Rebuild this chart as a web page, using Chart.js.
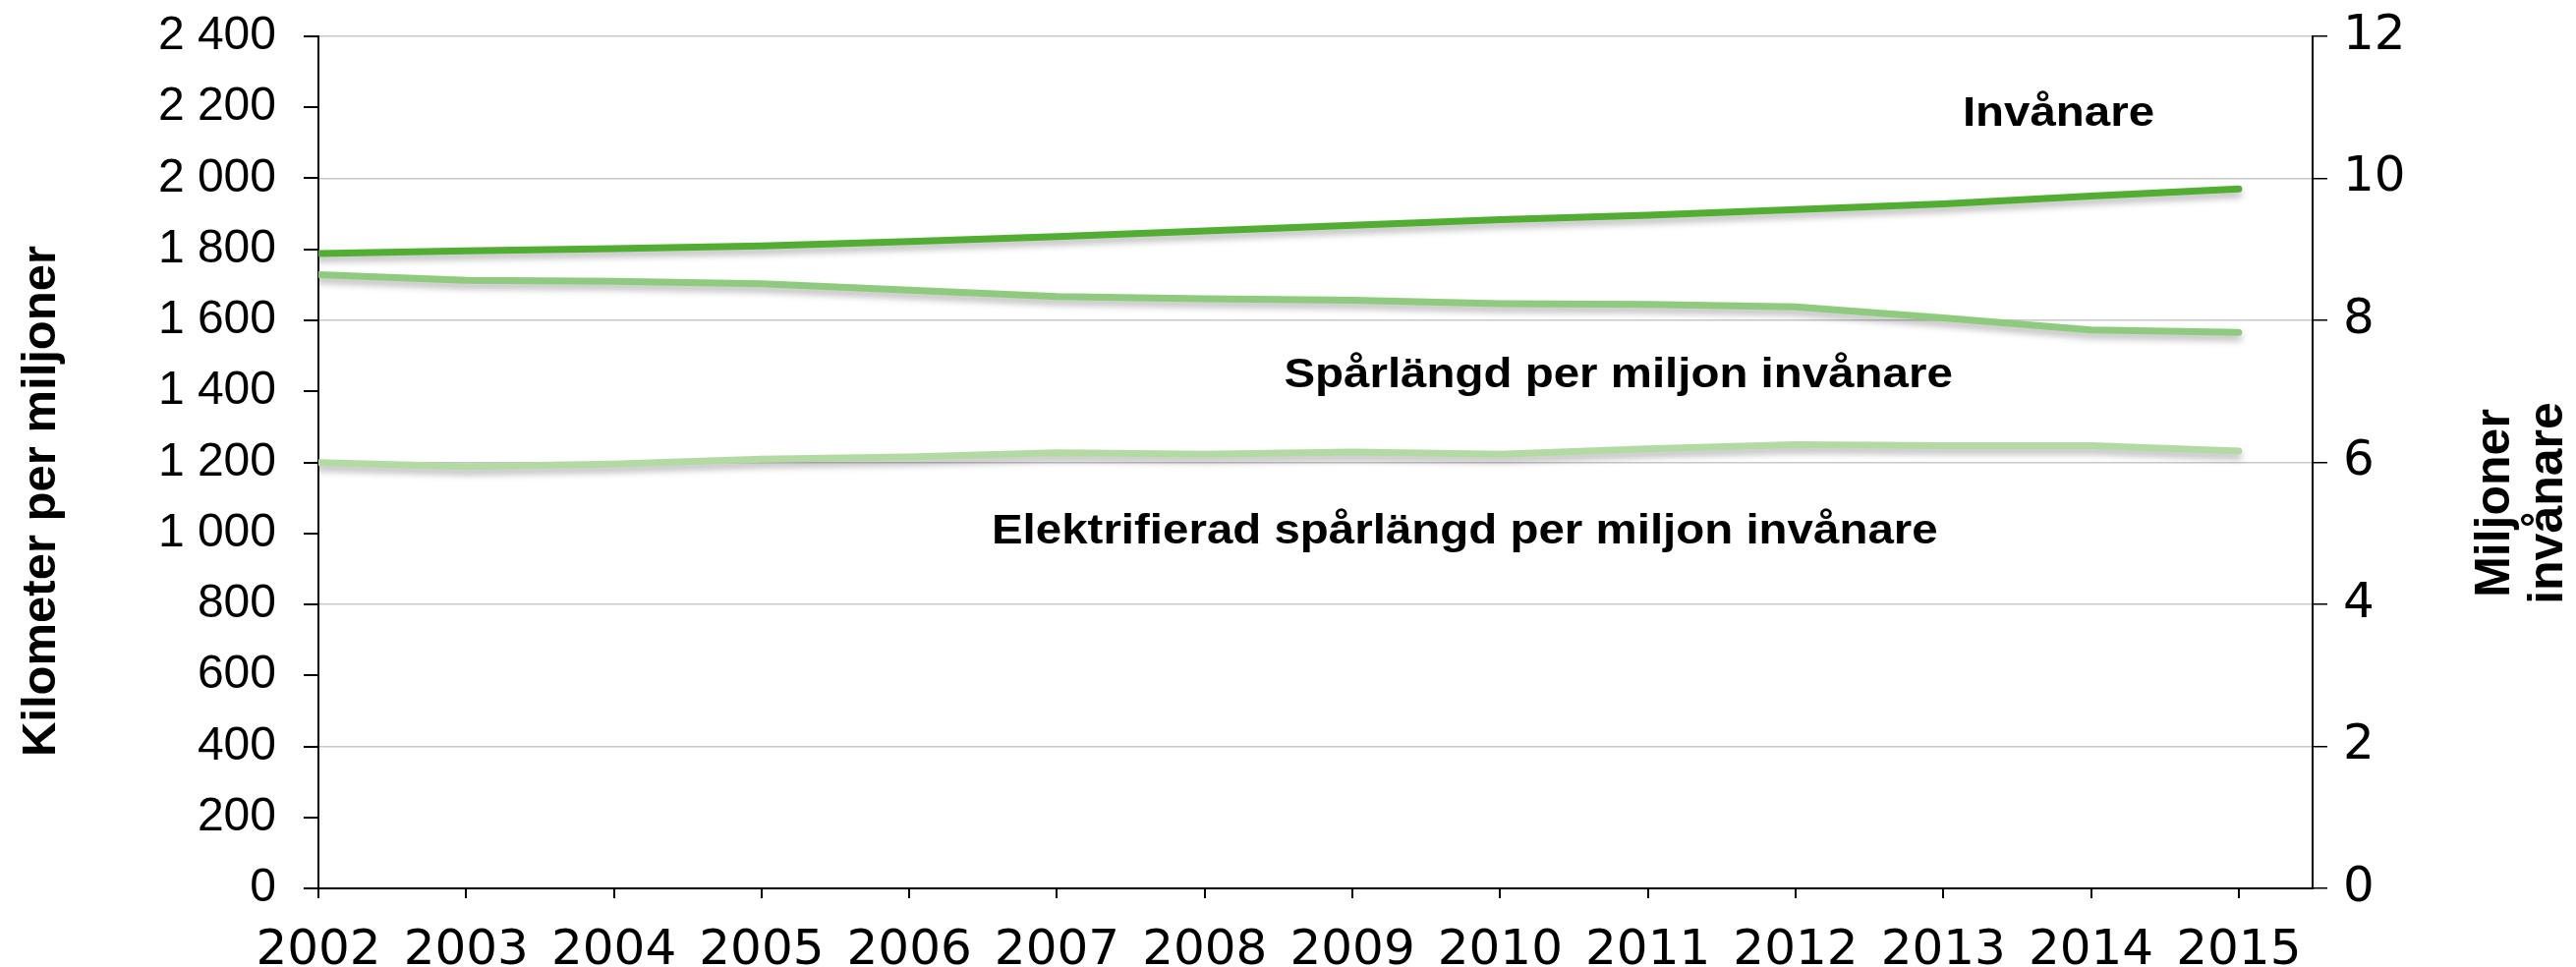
<!DOCTYPE html>
<html>
<head>
<meta charset="utf-8">
<script src="https://cdn.jsdelivr.net/npm/chart.js@4.4.1/dist/chart.umd.min.js"></script>
<style>
  html, body { margin: 0; padding: 0; background: #fff; }
</style>
</head>
<body>
<canvas id="chart" width="2621" height="984"></canvas>
<script>
// data
const years = [2002, 2003, 2004, 2005, 2006, 2007, 2008, 2009, 2010, 2011, 2012, 2013, 2014, 2015];
const inhabitants = [8.94, 8.98, 9.01, 9.05, 9.11, 9.18, 9.26, 9.34, 9.42, 9.48, 9.56, 9.64, 9.75, 9.85];
const trackPerMillion = [1729, 1713, 1710, 1703, 1685, 1667, 1661, 1657, 1647, 1645, 1638, 1607, 1573, 1566];
const electrifiedPerMillion = [1199, 1188, 1195, 1209, 1215, 1227, 1223, 1229, 1223, 1238, 1250, 1247, 1247, 1232];
const kmTicks = [0, 200, 400, 600, 800, 1000, 1200, 1400, 1600, 1800, 2000, 2200, 2400];
const popTicks = [0, 2, 4, 6, 8, 10, 12];

// series labels written inside the plot, placed in data units
const notes = [
  { text: "Invånare", year: 2013.78, value: 2180 },
  { text: "Spårlängd per miljon invånare", year: 2010.8, value: 1443 },
  { text: "Elektrifierad spårlängd per miljon invånare", year: 2009.76, value: 1005 }
];

const FONT = "'Liberation Sans', Arial, sans-serif";
const WIDE = "'DejaVu Sans', Verdana, sans-serif";
const fmt = v => String(v).replace(/\B(?=(\d{3})+(?!\d))/g, " ");
const points = vals => years.map((y, i) => ({ x: y, y: vals[i] }));

const lineShadow = {
  id: "lineShadow",
  beforeDatasetDraw(chart) {
    const c = chart.ctx;
    c.save();
    c.shadowColor = "rgba(0,0,0,0.28)";
    c.shadowBlur = 7;
    c.shadowOffsetY = 5;
  },
  afterDatasetDraw(chart) {
    chart.ctx.restore();
  }
};

const texts = {
  id: "texts",
  afterDraw(chart) {
    const { ctx, scales } = chart;
    ctx.save();
    ctx.fillStyle = "#000";
    ctx.textBaseline = "middle";
    ctx.textAlign = "center";

    // in-plot labels (wide bold lettering)
    ctx.font = "bold 42px " + FONT;
    notes.forEach(n => {
      ctx.save();
      ctx.translate(scales.x.getPixelForValue(n.year), scales.y.getPixelForValue(n.value));
      ctx.scale(1.13, 1);
      ctx.fillText(n.text, 0, 0);
      ctx.restore();
    });

    // left axis title
    ctx.font = "bold 49px " + FONT;
    ctx.save();
    ctx.translate(42, 510);
    ctx.rotate(-Math.PI / 2);
    ctx.fillText("Kilometer per miljoner", 0, 0);
    ctx.restore();

    // right axis title, two lines
    ctx.font = "bold 50px " + FONT;
    ctx.save();
    ctx.translate(2566, 512);
    ctx.rotate(-Math.PI / 2);
    ctx.fillText("Miljoner", 0, -27);
    ctx.fillText("invånare", 0, 27);
    ctx.restore();

    ctx.restore();
  }
};

// pin the plot box: no automatic label overhang padding
const noPad = s => { s.paddingTop = 0; s.paddingBottom = 0; s.paddingLeft = 0; s.paddingRight = 0; };

new Chart(document.getElementById("chart"), {
  type: "line",
  data: {
    datasets: [
      {
        label: "Invånare",
        data: points(inhabitants),
        yAxisID: "y1",
        borderColor: "#52ae32",
        borderWidth: 7
      },
      {
        label: "Spårlängd per miljon invånare",
        data: points(trackPerMillion),
        yAxisID: "y",
        borderColor: "#8ecb7e",
        borderWidth: 7
      },
      {
        label: "Elektrifierad spårlängd per miljon invånare",
        data: points(electrifiedPerMillion),
        yAxisID: "y",
        borderColor: "#b3daa3",
        borderWidth: 7
      }
    ]
  },
  options: {
    responsive: false,
    animation: false,
    layout: { padding: { top: 37, left: 0, right: 0, bottom: 0 } },
    plugins: { legend: { display: false }, tooltip: { enabled: false } },
    elements: {
      point: { radius: 0 },
      line: { tension: 0, borderCapStyle: "round", borderJoinStyle: "round" }
    },
    scales: {
      x: {
        type: "linear",
        min: 2002,
        max: 2015.5,
        afterBuildTicks: s => { s.ticks = years.map(v => ({ value: v })); },
        afterFit: s => { s.height = 80; noPad(s); },
        ticks: {
          callback: v => String(v),
          color: "#000",
          font: { family: WIDE, size: 50 },
          padding: 24,
          maxRotation: 0,
          autoSkip: false
        },
        grid: { drawOnChartArea: false, tickLength: 10, tickColor: "#000", lineWidth: 2 },
        border: { color: "#000", width: 2 }
      },
      y: {
        position: "left",
        min: 0,
        max: 2400,
        afterBuildTicks: s => { s.ticks = kmTicks.map(v => ({ value: v })); },
        afterFit: s => { s.width = 324; noPad(s); },
        ticks: {
          callback: v => fmt(v),
          color: "#000",
          font: { family: FONT, size: 48 },
          padding: 28
        },
        grid: { drawOnChartArea: false, tickLength: 15, tickColor: "#000", lineWidth: 2 },
        border: { color: "#000", width: 2 }
      },
      y1: {
        position: "right",
        min: 0,
        max: 12,
        afterBuildTicks: s => { s.ticks = popTicks.map(v => ({ value: v })); },
        afterFit: s => { s.width = 268; noPad(s); },
        ticks: {
          callback: v => String(v),
          color: "#000",
          font: { family: WIDE, size: 50 },
          padding: 16
        },
        grid: { color: "#c8c8c8", lineWidth: 1.5, tickLength: 15, tickColor: "#000" },
        border: { color: "#000", width: 2 }
      }
    }
  },
  plugins: [lineShadow, texts]
});
</script>
</body>
</html>
